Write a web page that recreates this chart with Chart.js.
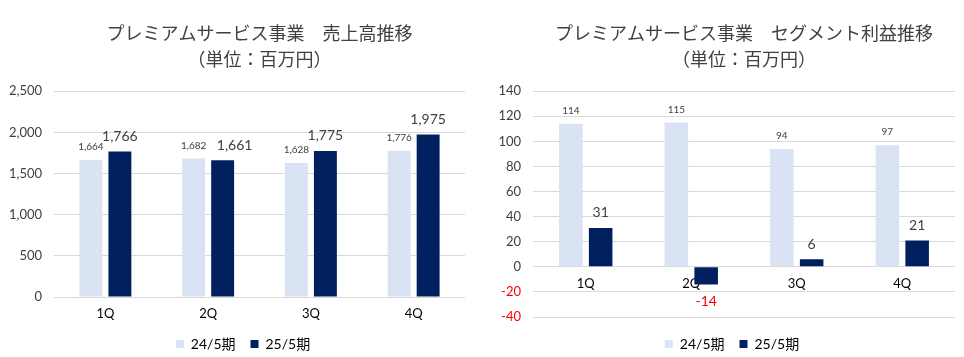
<!DOCTYPE html>
<html><head><meta charset="utf-8">
<script src="https://cdn.jsdelivr.net/npm/chart.js@4"></script>
<style>
html,body{margin:0;padding:0;background:#fff;width:964px;height:357px;overflow:hidden}
.box{position:absolute;top:0;height:357px}
#b1{left:0;width:480px}
#b2{left:480px;width:484px}
</style></head><body>
<div class="box" id="b1"><canvas id="c1" width="480" height="357"></canvas></div>
<div class="box" id="b2"><canvas id="c2" width="484" height="357"></canvas></div>
<script>
const categories = ['1Q','2Q','3Q','4Q'];
const seriesNames = ['24/5期','25/5期'];
const sales2024 = [1664,1682,1628,1776];
const sales2025 = [1766,1661,1775,1975];
const profit2024 = [114,115,94,97];
const profit2025 = [31,-14,6,21];
const salesTicks = [0,500,1000,1500,2000,2500];
const profitTicks = [-40,-20,0,20,40,60,80,100,120,140];
const titles = ['プレミアムサービス事業　売上高推移','プレミアムサービス事業　セグメント利益推移'];
const unitLabel = '（単位：百万円）';

const LIGHT = '#DAE3F3', DARK = '#002060';
const NUM = "Lato, 'Noto Sans CJK JP', sans-serif";
const JP = "'Noto Sans CJK JP', sans-serif";
const fmt = v => v.toLocaleString('en-US');

function makeLabelPlugin(nudge) {
  return {
    id: 'valueLabels',
    afterDatasetsDraw(chart) {
      const ctx = chart.ctx;
      ctx.save();
      chart.data.datasets.forEach((ds, di) => {
        const meta = chart.getDatasetMeta(di);
        const size = di === 0 ? 10 : 14;
        ctx.font = size + 'px ' + NUM;
        ctx.textAlign = 'center';
        ctx.textBaseline = 'middle';
        meta.data.forEach((el, i) => {
          const v = ds.data[i];
          const off = di === 0 ? 13 : 15;
          const dx = (nudge && nudge[di] && nudge[di][i]) || 0;
          ctx.fillStyle = v < 0 ? '#FF0000' : '#404040';
          const y = v < 0 ? el.y + off + 2 : el.y - off;
          ctx.fillText(fmt(v), el.x + dx, y);
        });
      });
      ctx.restore();
    }
  };
}

function makeChart(id, titleText, d1, d2, ticks, opts) {
  const min = ticks[0], max = ticks[ticks.length - 1], step = ticks[1] - ticks[0];
  const legendShift = {
    id: 'legendShift',
    afterLayout(chart) {
      const l = chart.legend;
      l.left += opts.dx; l.right += opts.dx;
      l.top += opts.dy; l.bottom += opts.dy;
    }
  };
  return new Chart(document.getElementById(id), {
    type: 'bar',
    data: {
      labels: categories,
      datasets: [
        {label: seriesNames[0], data: d1, backgroundColor: LIGHT, categoryPercentage: 0.565, barPercentage: 0.79},
        {label: seriesNames[1], data: d2, backgroundColor: DARK, categoryPercentage: 0.565, barPercentage: 0.79}
      ]
    },
    options: {
      responsive: false,
      animation: false,
      layout: {padding: opts.padding},
      plugins: {
        title: {display: true, text: titleText, fullSize: false, color: '#404040',
          font: {family: JP, size: 18, weight: 'normal'}, padding: {top: 22, bottom: 5}},
        subtitle: {display: true, text: unitLabel, fullSize: false, color: '#404040',
          font: {family: JP, size: 18, weight: 'normal'}, padding: {top: 0, bottom: 21}},
        legend: {position: 'bottom', labels: {boxWidth: 8, boxHeight: 8, color: '#000',
          font: {family: NUM, size: 14}, padding: 15}},
        tooltip: {enabled: false}
      },
      scales: {
        x: Object.assign({
          grid: {display: false, drawTicks: false}, border: {display: false},
          ticks: {color: '#000', font: {family: NUM, size: 13}, padding: opts.xPad}
        }, opts.xExtra || {}),
        y: {
          min: min, max: max,
          afterFit: s => { s.width = opts.yWidth; },
          grid: {color: '#D9D9D9', drawTicks: false},
          border: {display: false},
          ticks: {stepSize: step, padding: 12, font: {family: NUM, size: 13},
            color: c => (c.tick && c.tick.value < 0) ? '#FF0000' : '#404040',
            callback: v => fmt(v)}
        }
      }
    },
    plugins: [makeLabelPlugin(opts.nudge), legendShift]
  });
}

makeChart('c1', titles[0], sales2024, sales2025, salesTicks,
  {padding: {left: 0, right: 15, top: 0, bottom: -5}, yWidth: 54, xPad: 9, dx: 10.5, dy: -1,
   nudge: {1: {1: 12}},
   xExtra: {afterFit: s => { s.height = 26; }}});
makeChart('c2', titles[1], profit2024, profit2025, profitTicks,
  {padding: {left: 0, right: 9, top: 0, bottom: 1}, yWidth: 53, xPad: 9, dx: 14.5, dy: 5,
   xExtra: {position: {y: 0}, z: 1}});
</script>
</body></html>
